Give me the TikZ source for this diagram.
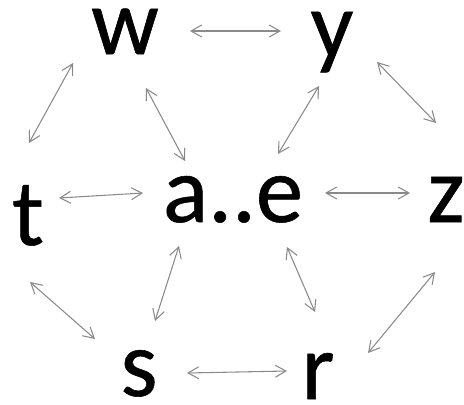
\documentclass[tikz,border=0pt]{standalone}
\usepackage{fontspec}
\setmainfont{Carlito}
\newfontfamily\lblfont[FakeBold=0.6]{Carlito}
\usepackage{xcolor}
\usetikzlibrary{positioning,arrows.meta,calc}
\definecolor{agray}{HTML}{8A8A8A}

\begin{document}
\begin{tikzpicture}[x=0.75pt, y=-0.75pt,
  lbl/.style={inner sep=0pt, anchor=base, font=\lblfont\fontsize{71}{71}\selectfont},
  arr/.style={{Straight Barb[length=8pt,width=9pt]}-{Straight Barb[length=8pt,width=9pt]}, agray, line width=0.8pt}]
\useasboundingbox (0,0) rectangle (464,404);
\node[lbl] (w) at (125,54) {w};
\node[lbl] (y) at (332,57) {y};
\node[lbl] (t) at (28,245) {t};
\node[lbl] (ae) at (233,222) {a..e};
\node[lbl] (z) at (446,222) {z};
\node[lbl] (s) at (139,396) {s};
\node[lbl] (r) at (318,399) {r};
% links round the ring
\draw[arr] ($(w.base)+(65,-23)$) -- ($(y.base)+(-51,-26)$);
\draw[arr] ($(w.base)+(-52,9)$) -- ($(t.base)+(1,-102)$);
\draw[arr] ($(y.base)+(45,5)$) -- ($(z.base)+(-10,-99)$);
\draw[arr] ($(t.base)+(2,37)$) -- ($(s.base)+(-44,-57)$);
\draw[arr] ($(z.base)+(-11,50)$) -- ($(r.base)+(50,-46)$);
\draw[arr] ($(s.base)+(48,-23)$) -- ($(r.base)+(-31,-28)$);
% links to the centre
\draw[arr] ($(w.base)+(21,34)$) -- ($(ae.base)+(-48,-61)$);
\draw[arr] ($(y.base)+(-13,29)$) -- ($(ae.base)+(45,-68)$);
\draw[arr] ($(t.base)+(31,-47)$) -- ($(ae.base)+(-90,-29)$);
\draw[arr] ($(ae.base)+(92,-29)$) -- ($(z.base)+(-36,-29)$);
\draw[arr] ($(ae.base)+(-54,24)$) -- ($(s.base)+(16,-75)$);
\draw[arr] ($(ae.base)+(54,25)$) -- ($(r.base)+(-3,-87)$);
\end{tikzpicture}
\end{document}
